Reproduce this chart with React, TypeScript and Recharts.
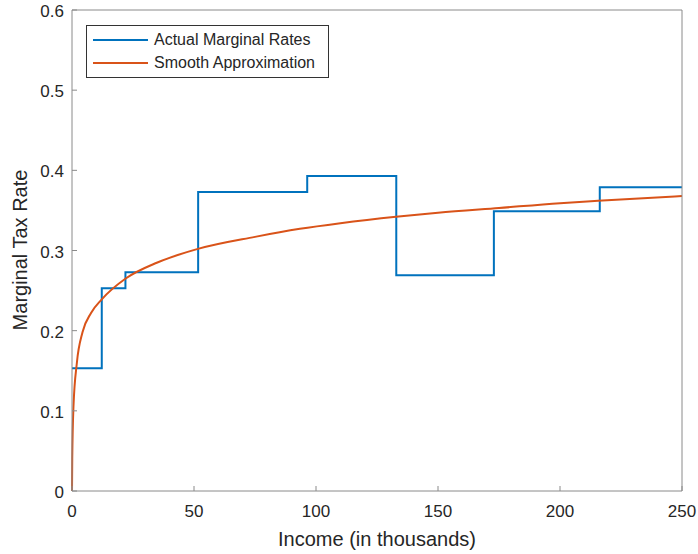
import React from "react";
import { LineChart, Line, XAxis, YAxis } from "recharts";

// bracket start points (income in thousands) and marginal rate from there on
const bracketStarts = [0, 12.2, 21.9, 51.7, 96.4, 132.9, 172.9, 216.3, 250];
const bracketRates = [0.153, 0.253, 0.273, 0.373, 0.393, 0.269, 0.349, 0.379, 0.379];

// smooth approximation
const smoothIncome = [0, 0.1, 0.6, 2, 4.3, 7.8, 12.2, 22, 35, 51.6, 75, 93.4, 110, 132.8, 150, 175, 200, 215.6, 250];
const smoothRate = [0, 0.04, 0.105, 0.16, 0.198, 0.222, 0.239, 0.265, 0.285, 0.302, 0.317, 0.327, 0.334, 0.342, 0.347, 0.353, 0.359, 0.362, 0.368];

const xTicks = [0, 50, 100, 150, 200, 250];
const yTicks = [0, 0.1, 0.2, 0.3, 0.4, 0.5, 0.6];

const BLUE = "#0072BD";
const ORANGE = "#D95319";
const AXIS = "#8a8a8a";
const TEXT = "#262626";
const FONT = "'Liberation Sans', Arial, Helvetica, sans-serif";

const actualData = bracketStarts.map((x, i) => ({ x, y: bracketRates[i] }));
const smoothData = smoothIncome.map((x, i) => ({ x, y: smoothRate[i] }));

const legendItems = [
  { name: "Actual Marginal Rates", color: BLUE },
  { name: "Smooth Approximation", color: ORANGE },
];

const BottomTick = (props: any) => {
  const { x, y, payload } = props;
  return (
    <g>
      <line x1={x} x2={x} y1={y} y2={y - 5} stroke={AXIS} />
      <text x={x} y={y + 26} textAnchor="middle" fontSize={17} fill={TEXT} fontFamily={FONT}>
        {payload.value}
      </text>
    </g>
  );
};

const LeftTick = (props: any) => {
  const { x, y, payload } = props;
  return (
    <g>
      <line x1={x} x2={x + 5} y1={y} y2={y} stroke={AXIS} />
      <text x={x - 8} y={y + 7} textAnchor="end" fontSize={17} fill={TEXT} fontFamily={FONT}>
        {payload.value}
      </text>
    </g>
  );
};

const TopTick = (props: any) => {
  const { x, y } = props;
  return <line x1={x} x2={x} y1={y} y2={y + 5} stroke={AXIS} />;
};

const RightTick = (props: any) => {
  const { x, y } = props;
  return <line x1={x} x2={x - 5} y1={y} y2={y} stroke={AXIS} />;
};

export default function App() {
  return (
    <div style={{ position: "absolute", left: 0, top: 0, width: 698, height: 554, background: "#fff" }}>
      <LineChart width={698} height={554} margin={{ top: 9, right: 0, bottom: 0, left: 0 }}>
        <XAxis
          xAxisId="bottom"
          type="number"
          dataKey="x"
          domain={[0, 250]}
          ticks={xTicks}
          interval={0}
          height={63}
          tickSize={0}
          tickMargin={0}
          tick={<BottomTick />}
          stroke={AXIS}
          label={{
            content: () => (
              <text x={377} y={546} textAnchor="middle" fontSize={20} fill={TEXT} fontFamily={FONT}>
                Income (in thousands)
              </text>
            ),
          }}
        />
        <XAxis
          xAxisId="top"
          orientation="top"
          type="number"
          dataKey="x"
          domain={[0, 250]}
          ticks={xTicks}
          interval={0}
          height={1}
          tickSize={0}
          tickMargin={0}
          tick={<TopTick />}
          stroke={AXIS}
        />
        <YAxis
          yAxisId="left"
          type="number"
          dataKey="y"
          domain={[0, 0.6]}
          ticks={yTicks}
          interval={0}
          width={72}
          tickSize={0}
          tickMargin={0}
          tick={<LeftTick />}
          stroke={AXIS}
          label={{
            content: () => (
              <text
                x={27}
                y={250}
                textAnchor="middle"
                fontSize={20}
                fill={TEXT}
                fontFamily={FONT}
                transform="rotate(-90 27 250)"
              >
                Marginal Tax Rate
              </text>
            ),
          }}
        />
        <YAxis
          yAxisId="right"
          orientation="right"
          type="number"
          dataKey="y"
          domain={[0, 0.6]}
          ticks={yTicks}
          interval={0}
          width={16}
          tickSize={0}
          tickMargin={0}
          tick={<RightTick />}
          stroke={AXIS}
        />
        <Line
          xAxisId="bottom"
          yAxisId="left"
          data={actualData}
          dataKey="y"
          type="stepAfter"
          stroke={BLUE}
          strokeWidth={2}
          dot={false}
          isAnimationActive={false}
          name="Actual Marginal Rates"
        />
        <Line
          xAxisId="bottom"
          yAxisId="left"
          data={smoothData}
          dataKey="y"
          type="monotone"
          stroke={ORANGE}
          strokeWidth={2}
          dot={false}
          isAnimationActive={false}
          name="Smooth Approximation"
        />
      </LineChart>
      <div
        style={{
          position: "absolute",
          left: 86,
          top: 25,
          width: 241,
          height: 49,
          border: "1px solid #333",
          background: "#fff",
          boxSizing: "content-box",
          fontFamily: FONT,
          fontSize: 16,
          color: TEXT,
          paddingTop: 2,
        }}
      >
        {legendItems.map((item) => (
          <div key={item.name} style={{ display: "flex", alignItems: "center", height: 23 }}>
            <span
              style={{
                display: "inline-block",
                width: 55,
                height: 2,
                background: item.color,
                marginLeft: 6,
                marginRight: 6,
              }}
            />
            <span>{item.name}</span>
          </div>
        ))}
      </div>
    </div>
  );
}
